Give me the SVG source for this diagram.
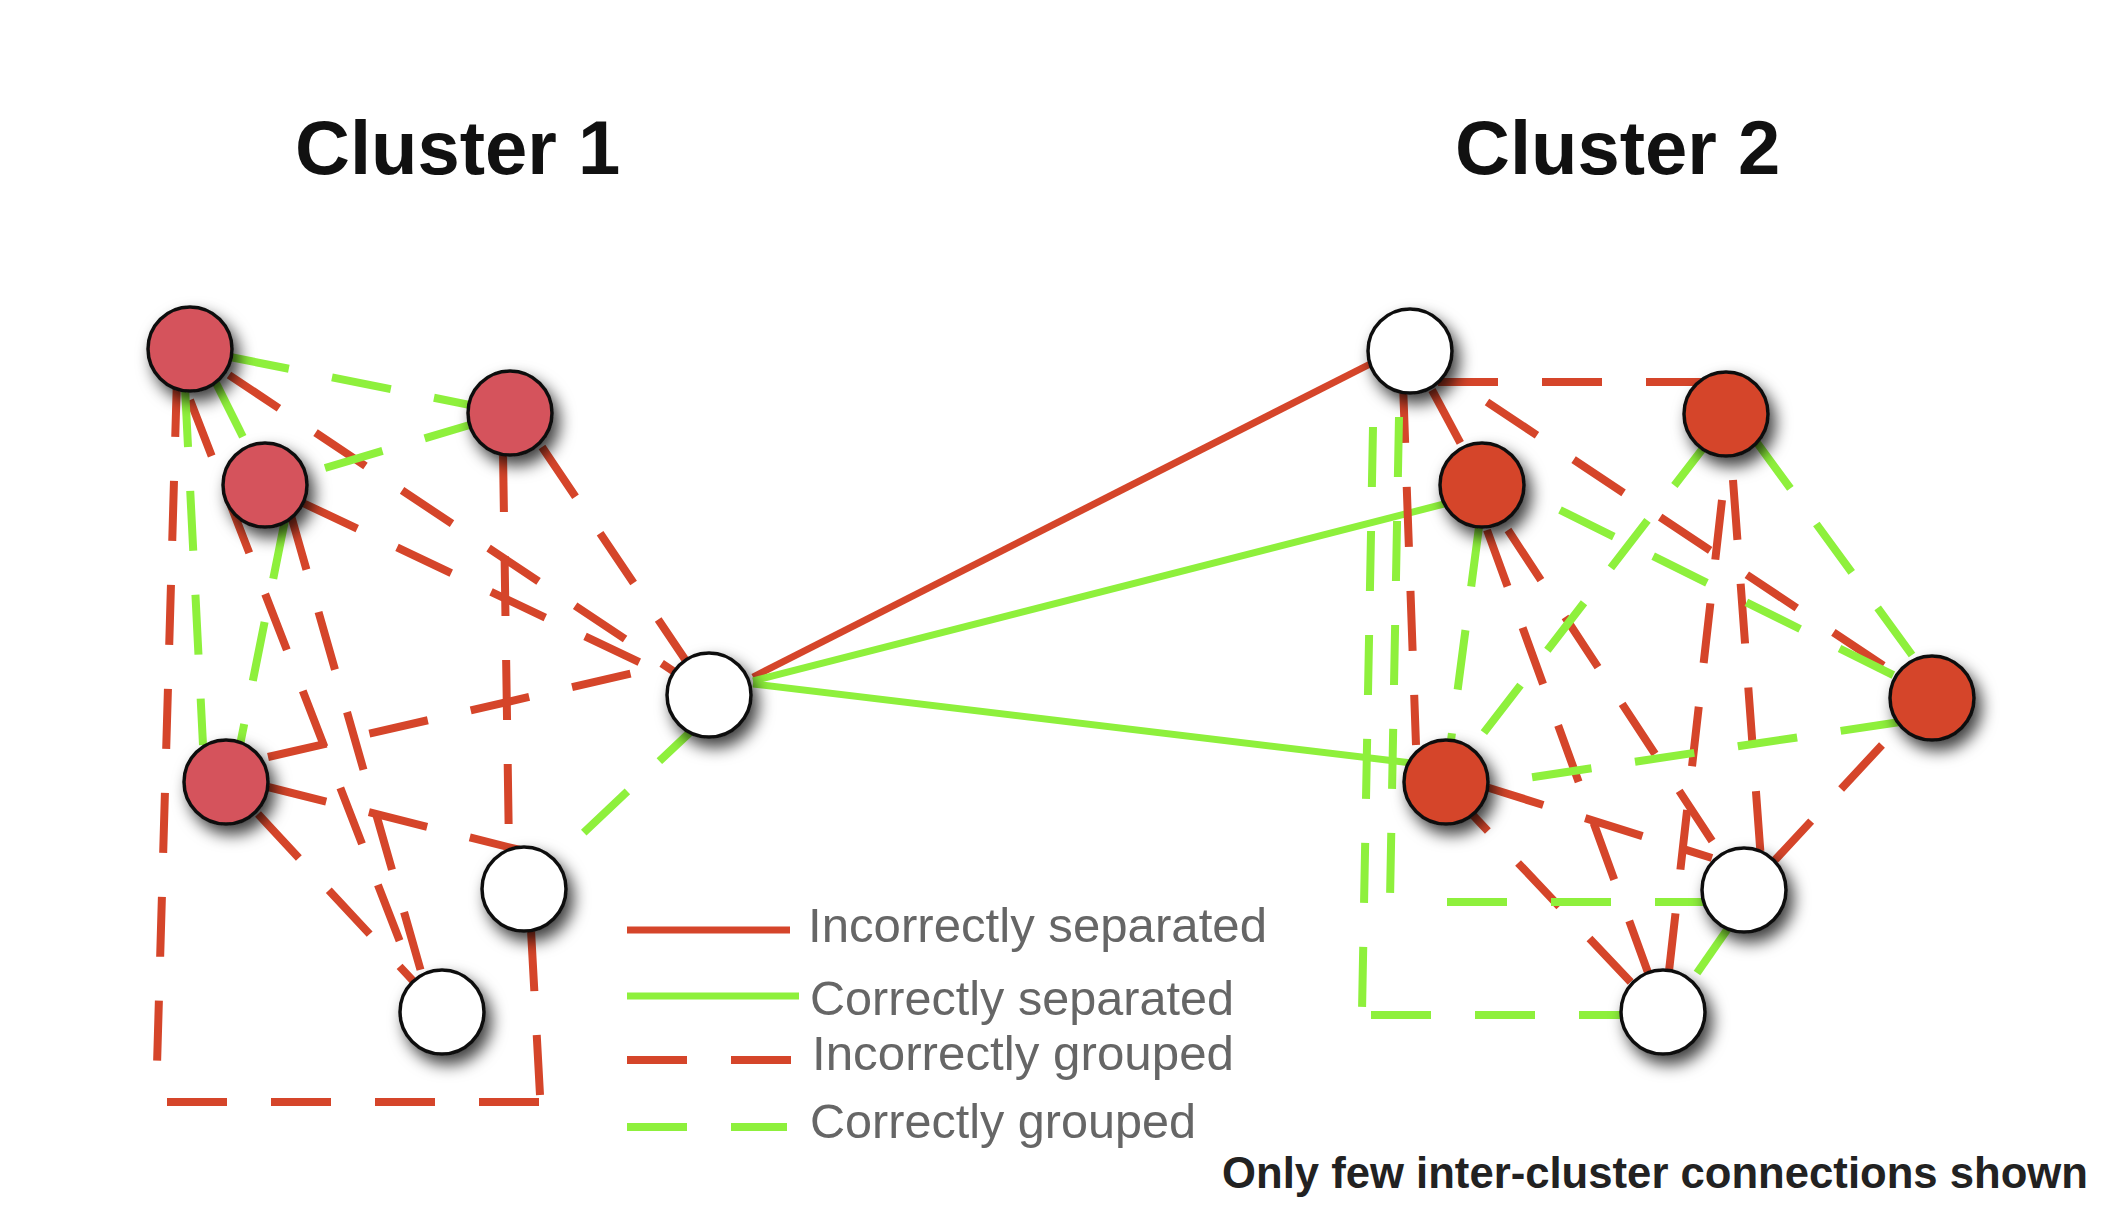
<svg xmlns="http://www.w3.org/2000/svg" width="2116" height="1227" viewBox="0 0 2116 1227">
<defs>
<style>
.rd{stroke:#d5452a;stroke-width:8;stroke-dasharray:60 44;fill:none}
.gd{stroke:#8ef03c;stroke-width:8;stroke-dasharray:60 44;fill:none}
.rs{stroke:#d5452a;stroke-width:7;fill:none}
.gs{stroke:#8ef03c;stroke-width:7;fill:none}
.node{stroke:#111;stroke-width:3.5;filter:url(#sh)}
.n1{fill:#d5535b}
.n2{fill:#d5452a}
.nw{fill:#fff}
.title{font-family:"Liberation Sans",Arial,sans-serif;font-weight:bold;font-size:76px;fill:#111}
.leg{font-family:"Liberation Sans",Arial,sans-serif;font-size:49px;fill:#666}
.note{font-family:"Liberation Sans",Arial,sans-serif;font-weight:bold;font-size:45px;fill:#222}
</style>
<filter id="sh" x="-60%" y="-60%" width="220%" height="220%">
<feDropShadow dx="6" dy="9" stdDeviation="8" flood-color="#000" flood-opacity="0.75"/>
</filter>
</defs>
<rect width="2116" height="1227" fill="#fff"/>

<text class="title" x="295" y="174">Cluster 1</text>
<text class="title" x="1455" y="174">Cluster 2</text>

<g id="connectors">
<!-- cluster 1 red dashed -->
<line class="rd" x1="229" y1="375" x2="709" y2="695"/>
<line class="rd" x1="190" y1="400" x2="414" y2="978"/>
<line class="rd" x1="303" y1="503" x2="709" y2="695"/>
<line class="rd" x1="290" y1="512" x2="422" y2="975"/>
<line class="rd" x1="542" y1="447" x2="709" y2="695"/>
<line class="rd" x1="503" y1="452" x2="509" y2="850"/>
<line class="rd" x1="268" y1="757" x2="668" y2="665"/>
<line class="rd" x1="268" y1="787" x2="520" y2="850"/>
<line class="rd" x1="258" y1="814" x2="442" y2="1012"/>
<line class="rd" x1="177" y1="377" x2="156" y2="1100"/>
<line class="rd" x1="167" y1="1102" x2="540" y2="1102"/>
<line class="rd" x1="540" y1="1095" x2="531" y2="930"/>
<!-- cluster 1 green dashed -->
<line class="gd" x1="230" y1="357" x2="510" y2="413"/>
<line class="gd" x1="325" y1="468" x2="510" y2="413"/>
<line class="gd" x1="216" y1="383" x2="247" y2="445"/>
<line class="gd" x1="185" y1="387" x2="203" y2="745"/>
<line class="gd" x1="285" y1="520" x2="240" y2="745"/>
<line class="gd" x1="703" y1="720" x2="524" y2="889"/>
<!-- inter-cluster solid -->
<line class="rs" x1="753" y1="677" x2="1380" y2="359"/>
<line class="gs" x1="753" y1="681" x2="1452" y2="502"/>
<line class="gs" x1="753" y1="684" x2="1420" y2="764"/>
<!-- cluster 2 red dashed -->
<line class="rd" x1="1438" y1="382" x2="1726" y2="382"/>
<line class="rd" x1="1432" y1="390" x2="1462" y2="446"/>
<line class="rd" x1="1403" y1="383" x2="1416" y2="745"/>
<line class="rd" x1="1487" y1="402" x2="1896" y2="674"/>
<line class="rd" x1="1733" y1="480" x2="1761" y2="860"/>
<line class="rd" x1="1722" y1="500" x2="1668" y2="980"/>
<line class="rd" x1="1508" y1="530" x2="1718" y2="850"/>
<line class="rd" x1="1487" y1="530" x2="1650" y2="978"/>
<line class="rd" x1="1882" y1="745" x2="1775" y2="860"/>
<line class="rd" x1="1486" y1="787" x2="1712" y2="858"/>
<line class="rd" x1="1470" y1="812" x2="1640" y2="992" stroke-dashoffset="34"/>
<!-- cluster 2 green dashed -->
<line class="gd" x1="1373" y1="427" x2="1362" y2="1012"/>
<line class="gd" x1="1371" y1="1015" x2="1640" y2="1015"/>
<line class="gd" x1="1399" y1="417" x2="1390" y2="900"/>
<line class="gd" x1="1447" y1="902" x2="1712" y2="902"/>
<line class="gd" x1="1479" y1="527" x2="1450" y2="748"/>
<line class="gd" x1="1560" y1="510" x2="1895" y2="676"/>
<line class="gd" x1="1711" y1="438" x2="1472" y2="748"/>
<line class="gd" x1="1755" y1="440" x2="1912" y2="655"/>
<line class="gd" x1="1900" y1="722" x2="1460" y2="788"/>
<line class="gd" x1="1729" y1="927" x2="1697" y2="973"/>
</g>

<g id="node-A"><circle class="node n1" cx="190" cy="349" r="42"/></g>
<g id="node-B"><circle class="node n1" cx="510" cy="413" r="42"/></g>
<g id="node-C"><circle class="node n1" cx="265" cy="485" r="42"/></g>
<g id="node-D"><circle class="node n1" cx="226" cy="782" r="42"/></g>
<g id="node-E"><circle class="node nw" cx="709" cy="695" r="42"/></g>
<g id="node-F"><circle class="node nw" cx="524" cy="889" r="42"/></g>
<g id="node-G"><circle class="node nw" cx="442" cy="1012" r="42"/></g>

<g id="node-H"><circle class="node nw" cx="1410" cy="351" r="42"/></g>
<g id="node-I"><circle class="node n2" cx="1726" cy="414" r="42"/></g>
<g id="node-J"><circle class="node n2" cx="1482" cy="485" r="42"/></g>
<g id="node-K"><circle class="node n2" cx="1932" cy="698" r="42"/></g>
<g id="node-L"><circle class="node n2" cx="1446" cy="782" r="42"/></g>
<g id="node-M"><circle class="node nw" cx="1744" cy="890" r="42"/></g>
<g id="node-N"><circle class="node nw" cx="1663" cy="1012" r="42"/></g>

<g id="legend">
<line class="rs" x1="627" y1="930" x2="790" y2="930" stroke-width="10"/>
<line class="gs" x1="627" y1="996" x2="799" y2="996" stroke-width="10"/>
<line class="rd" x1="627" y1="1060" x2="792" y2="1060" stroke-width="10" stroke-dasharray="67 40"/>
<line class="gd" x1="627" y1="1127" x2="787" y2="1127" stroke-width="10" stroke-dasharray="62 45"/>
<text class="leg" x="808" y="942" textLength="459" lengthAdjust="spacingAndGlyphs">Incorrectly separated</text>
<text class="leg" x="810" y="1015" textLength="424" lengthAdjust="spacingAndGlyphs">Correctly separated</text>
<text class="leg" x="812" y="1070" textLength="422" lengthAdjust="spacingAndGlyphs">Incorrectly grouped</text>
<text class="leg" x="810" y="1138" textLength="386" lengthAdjust="spacingAndGlyphs">Correctly grouped</text>
</g>
<text class="note" x="1222" y="1188" textLength="866" lengthAdjust="spacingAndGlyphs">Only few inter-cluster connections shown</text>
</svg>
